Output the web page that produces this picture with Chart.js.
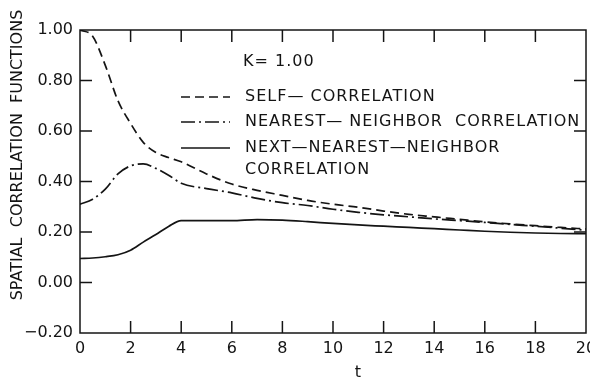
<!DOCTYPE html>
<html>
<head>
<meta charset="utf-8">
<script src="https://cdn.jsdelivr.net/npm/chart.js@4.4.0/dist/chart.umd.min.js"></script>
<style>
  html, body { margin: 0; padding: 0; background: #fff; }
  #wrap { width: 590px; height: 381px; }
</style>
</head>
<body>
<div id="wrap"><canvas id="corr-chart" width="590" height="381"></canvas></div>
<script>
// time grid and the three correlation curves
const tValues = [0, 0.5, 1, 1.5, 2, 2.5, 3, 3.5, 4, 5, 6, 7, 8, 9, 10, 11, 12, 13, 14, 15, 16, 17, 18, 19, 20];
const selfCorr = [1.00, 0.975, 0.86, 0.72, 0.63, 0.555, 0.515, 0.495, 0.478, 0.43, 0.39, 0.365, 0.345, 0.325, 0.31, 0.298, 0.283, 0.27, 0.26, 0.25, 0.24, 0.232, 0.225, 0.218, 0.212];
const nearestCorr = [0.31, 0.33, 0.37, 0.43, 0.462, 0.47, 0.452, 0.425, 0.393, 0.372, 0.355, 0.333, 0.316, 0.305, 0.29, 0.278, 0.268, 0.26, 0.252, 0.245, 0.238, 0.23, 0.223, 0.215, 0.207];
const nextNearestCorr = [0.095, 0.097, 0.102, 0.11, 0.128, 0.16, 0.19, 0.222, 0.245, 0.245, 0.245, 0.249, 0.247, 0.241, 0.234, 0.228, 0.223, 0.218, 0.213, 0.208, 0.203, 0.199, 0.196, 0.194, 0.193];

const seriesLabels = [
  ["SELF— CORRELATION"],
  ["NEAREST— NEIGHBOR  CORRELATION"],
  ["NEXT—NEAREST—NEIGHBOR", "CORRELATION"]
];
const xTicks = [0, 2, 4, 6, 8, 10, 12, 14, 16, 18, 20];
const yTicks = [-0.2, 0, 0.2, 0.4, 0.6, 0.8, 1.0];
const kLabel = "K= 1.00";
const yTitle = "SPATIAL  CORRELATION  FUNCTIONS";
const xTitle = "t";

const ink = "#141414";
const font = "DejaVu Sans";

function toPoints(values) {
  return tValues.map((t, i) => ({ x: t, y: values[i] }));
}

// frame, inward ticks, legend and axis titles
const decorPlugin = {
  id: "decor",
  afterDraw(chart) {
    const ctx = chart.ctx;
    const area = chart.chartArea;
    const xs = chart.scales.x;
    const ys = chart.scales.y;
    const tickLen = 12;

    ctx.save();
    ctx.strokeStyle = ink;
    ctx.lineWidth = 1.5;
    ctx.setLineDash([]);
    ctx.strokeRect(area.left, area.top, area.right - area.left, area.bottom - area.top);

    ctx.beginPath();
    xTicks.slice(1, -1).forEach(v => {
      const px = xs.getPixelForValue(v);
      ctx.moveTo(px, area.top);
      ctx.lineTo(px, area.top + tickLen);
      ctx.moveTo(px, area.bottom);
      ctx.lineTo(px, area.bottom - tickLen);
    });
    yTicks.slice(1, -1).forEach(v => {
      const py = ys.getPixelForValue(v);
      ctx.moveTo(area.left, py);
      ctx.lineTo(area.left + tickLen, py);
      ctx.moveTo(area.right, py);
      ctx.lineTo(area.right - tickLen, py);
    });
    ctx.stroke();

    // legend inside the plot
    ctx.fillStyle = ink;
    ctx.font = "16px '" + font + "'";
    ctx.letterSpacing = "1px";
    ctx.textBaseline = "middle";
    ctx.textAlign = "left";
    ctx.fillText(kLabel, 243, 62);

    const rows = [97, 122, 148];
    chart.data.datasets.forEach((ds, i) => {
      const y = rows[i];
      ctx.beginPath();
      ctx.setLineDash(ds.borderDash || []);
      ctx.lineWidth = ds.borderWidth;
      ctx.moveTo(181, y);
      ctx.lineTo(230, y);
      ctx.stroke();
      ctx.setLineDash([]);
      ds.label.forEach((line, j) => {
        ctx.fillText(line, 245, y + j * 22);
      });
    });

    // axis titles
    ctx.letterSpacing = "0px";
    ctx.textAlign = "center";
    ctx.fillText(xTitle, 358, 373);
    ctx.translate(18, 155);
    ctx.rotate(-Math.PI / 2);
    ctx.fillText(yTitle, 0, 0);
    ctx.restore();
  }
};

document.addEventListener("DOMContentLoaded", function () {
  const canvas = document.getElementById("corr-chart");

  const lineStyle = {
    borderColor: ink,
    borderWidth: 1.7,
    pointRadius: 0,
    fill: false,
    cubicInterpolationMode: "monotone"
  };

  const data = {
    datasets: [
      Object.assign({ label: seriesLabels[0], data: toPoints(selfCorr), borderDash: [9, 5] }, lineStyle),
      Object.assign({ label: seriesLabels[1], data: toPoints(nearestCorr), borderDash: [14, 4, 2, 4] }, lineStyle),
      Object.assign({ label: seriesLabels[2], data: toPoints(nextNearestCorr), borderDash: [] }, lineStyle)
    ]
  };

  new Chart(canvas, {
    type: "line",
    data: data,
    plugins: [decorPlugin],
    options: {
      responsive: false,
      animation: false,
      events: [],
      layout: { padding: { top: 30, right: 4, left: 0, bottom: 0 } },
      plugins: {
        legend: { display: false },
        tooltip: { enabled: false }
      },
      scales: {
        x: {
          type: "linear",
          min: 0,
          max: 20,
          afterBuildTicks: scale => { scale.ticks = xTicks.map(v => ({ value: v })); },
          afterFit: scale => { scale.height = 48; scale.paddingLeft = 0; scale.paddingRight = 0; },
          grid: { drawOnChartArea: false, drawTicks: false },
          border: { display: false },
          ticks: {
            color: ink,
            padding: 6,
            maxRotation: 0,
            font: { family: font, size: 16 },
            callback: v => String(v)
          }
        },
        y: {
          type: "linear",
          min: -0.2,
          max: 1.0,
          afterBuildTicks: scale => { scale.ticks = yTicks.map(v => ({ value: v })); },
          afterFit: scale => { scale.width = 80; scale.paddingTop = 0; scale.paddingBottom = 0; },
          grid: { drawOnChartArea: false, drawTicks: false },
          border: { display: false },
          ticks: {
            color: ink,
            padding: 7,
            font: { family: font, size: 16 },
            callback: v => v.toFixed(2).replace("-", "−")
          }
        }
      }
    }
  });
});
</script>
</body>
</html>
